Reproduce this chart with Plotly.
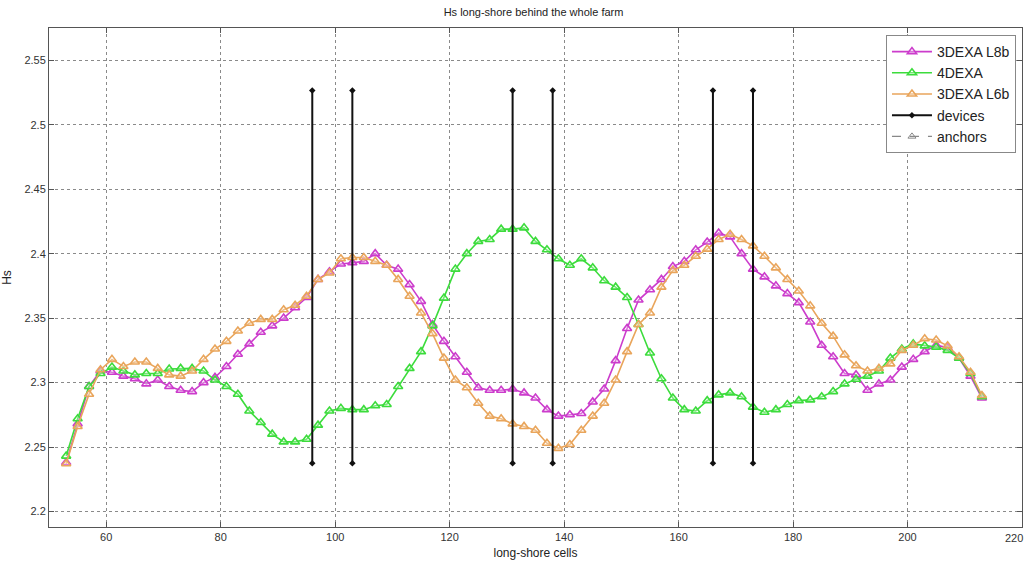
import plotly.graph_objects as go

cells = [53, 55, 57, 59, 61, 63, 65, 67, 69, 71, 73, 75, 77, 79, 81, 83, 85, 87, 89, 91,
         93, 95, 97, 99, 101, 103, 105, 107, 109, 111, 113, 115, 117, 119, 121, 123, 125, 127, 129, 131,
         133, 135, 137, 139, 141, 143, 145, 147, 149, 151, 153, 155, 157, 159, 161, 163, 165, 167, 169, 171,
         173, 175, 177, 179, 181, 183, 185, 187, 189, 191, 193, 195, 197, 199, 201, 203, 205, 207, 209, 211,
         213]

hs_3dexa_l8b = [2.238, 2.268, 2.297, 2.309, 2.308, 2.305, 2.303, 2.299, 2.302, 2.297,
                2.294, 2.293, 2.300, 2.304, 2.3125, 2.322, 2.330, 2.339, 2.344, 2.350,
                2.358, 2.366, 2.380, 2.386, 2.392, 2.393, 2.394, 2.400, 2.391, 2.388,
                2.376, 2.363, 2.345, 2.332, 2.320, 2.308, 2.296, 2.294, 2.294, 2.295,
                2.292, 2.288, 2.279, 2.274, 2.275, 2.276, 2.285, 2.295, 2.317, 2.342,
                2.364, 2.372, 2.380, 2.390, 2.394, 2.403, 2.409, 2.416, 2.413, 2.400,
                2.388, 2.382, 2.375, 2.369, 2.362, 2.347, 2.329, 2.320, 2.307, 2.306,
                2.294, 2.299, 2.302, 2.312, 2.318, 2.324, 2.329, 2.327, 2.319, 2.305,
                2.288]

hs_4dexa = [2.243, 2.272, 2.297, 2.307, 2.312, 2.309, 2.306, 2.307, 2.307, 2.3105,
            2.311, 2.311, 2.309, 2.302, 2.297, 2.291, 2.278, 2.269, 2.260, 2.254,
            2.254, 2.256, 2.267, 2.278, 2.280, 2.279, 2.279, 2.282, 2.283, 2.297,
            2.311, 2.324, 2.344, 2.3655, 2.388, 2.400, 2.4095, 2.411, 2.419, 2.419,
            2.420, 2.4095, 2.403, 2.396, 2.391, 2.396, 2.389, 2.379, 2.374, 2.366,
            2.345, 2.323, 2.303, 2.288, 2.279, 2.278, 2.286, 2.2905, 2.292, 2.289,
            2.281, 2.277, 2.279, 2.283, 2.286, 2.2866, 2.289, 2.293, 2.299, 2.3026,
            2.305, 2.309, 2.319, 2.326, 2.330, 2.3285, 2.3275, 2.325, 2.319, 2.307,
            2.289]

hs_3dexa_l6b = [2.237, 2.266, 2.291, 2.310, 2.318, 2.3125, 2.316, 2.316, 2.311, 2.306,
                2.305, 2.309, 2.318, 2.326, 2.332, 2.340, 2.346, 2.349, 2.349, 2.3565,
                2.360, 2.367, 2.380, 2.385, 2.396, 2.397, 2.397, 2.394, 2.391, 2.380,
                2.367, 2.354, 2.338, 2.319, 2.302, 2.296, 2.284, 2.274, 2.272, 2.268,
                2.266, 2.263, 2.253, 2.249, 2.252, 2.263, 2.274, 2.284, 2.302, 2.324,
                2.345, 2.354, 2.374, 2.387, 2.391, 2.398, 2.4035, 2.411, 2.415, 2.411,
                2.406, 2.398, 2.389, 2.380, 2.371, 2.3595, 2.346, 2.336, 2.3215, 2.313,
                2.309, 2.311, 2.3145, 2.325, 2.329, 2.334, 2.333, 2.3285, 2.320, 2.308,
                2.290]

device_x = [96, 103, 131, 138, 166, 173]
device_ymin = [2.2375] * 6
device_ymax = [2.5265] * 6

x_ticks = [60, 80, 100, 120, 140, 160, 180, 200, 220]
x_tick_text = ["60", "80", "100", "120", "140", "160", "180", "200", ""]
y_ticks = [2.2, 2.25, 2.3, 2.35, 2.4, 2.45, 2.5, 2.55]
y_tick_text = ["2.2", "2.25", "2.3", "2.35", "2.4", "2.45", "2.5", "2.55"]

FONT = "Liberation Sans Narrow, Liberation Sans, Arial, sans-serif"

fig = go.Figure()

series = [
    ("3DEXA L8b", hs_3dexa_l8b, "#cc3ccc"),
    ("4DEXA", hs_4dexa, "#3cdc3c"),
    ("3DEXA L6b", hs_3dexa_l6b, "#e9a55b"),
]
for name, vals, col in series:
    fig.add_trace(go.Scatter(
        x=cells, y=vals, name=name, mode="lines+markers",
        line=dict(color=col, width=1.6),
        marker=dict(symbol="triangle-up", size=8, color="rgba(255,255,255,0.3)",
                    line=dict(color=col, width=1.6)),
    ))

dx, dy = [], []
for x, y0, y1 in zip(device_x, device_ymin, device_ymax):
    dx += [x, x, None]
    dy += [y0, y1, None]
fig.add_trace(go.Scatter(
    x=dx, y=dy, name="devices", mode="lines+markers",
    line=dict(color="#111111", width=2),
    marker=dict(symbol="diamond", size=5, color="#111111"),
))

fig.add_trace(go.Scatter(
    x=[None], y=[None], name="anchors", mode="lines+markers",
    line=dict(color="#888888", width=1.2, dash="dash"),
    marker=dict(symbol="triangle-up-open", size=7, color="#888888"),
))

axis_common = dict(
    showline=True, linecolor="#555555", linewidth=1, mirror="allticks",
    ticks="inside", ticklen=5, tickcolor="#555555",
    showgrid=True, gridcolor="#8a8a8a", griddash="dot", gridwidth=1,
    zeroline=False, tickfont=dict(family=FONT, size=11, color="#333333"),
)

fig.update_layout(
    width=1026, height=561,
    margin=dict(l=49, r=4, t=28, b=34),
    paper_bgcolor="white", plot_bgcolor="white",
    title=dict(text="Hs long-shore behind the whole farm", x=0.52, xanchor="center",
               y=0.985, yanchor="top", font=dict(family=FONT, size=11, color="#222222")),
    xaxis=dict(range=[50, 220], tickvals=x_ticks, ticktext=x_tick_text,
               title=dict(text="long-shore cells", font=dict(family=FONT, size=12, color="#222222"),
                          standoff=6),
               **axis_common),
    yaxis=dict(range=[2.188, 2.575], tickvals=y_ticks, ticktext=y_tick_text,
               title=dict(text="Hs", font=dict(family=FONT, size=12, color="#222222"), standoff=12),
               **axis_common),
    legend=dict(x=0.9938, y=0.986, xanchor="right", yanchor="top",
                bgcolor="white", bordercolor="#888888", borderwidth=1,
                font=dict(family="Liberation Sans, Arial, sans-serif", size=14, color="#222222"),
                tracegroupgap=0, itemwidth=40),
    annotations=[dict(x=220, y=0, xref="x", yref="paper", xanchor="right", yanchor="top",
                      xshift=3, yshift=-3, text="220", showarrow=False,
                      font=dict(family=FONT, size=11, color="#333333"))],
    showlegend=True,
)

fig.write_html("out.html")
